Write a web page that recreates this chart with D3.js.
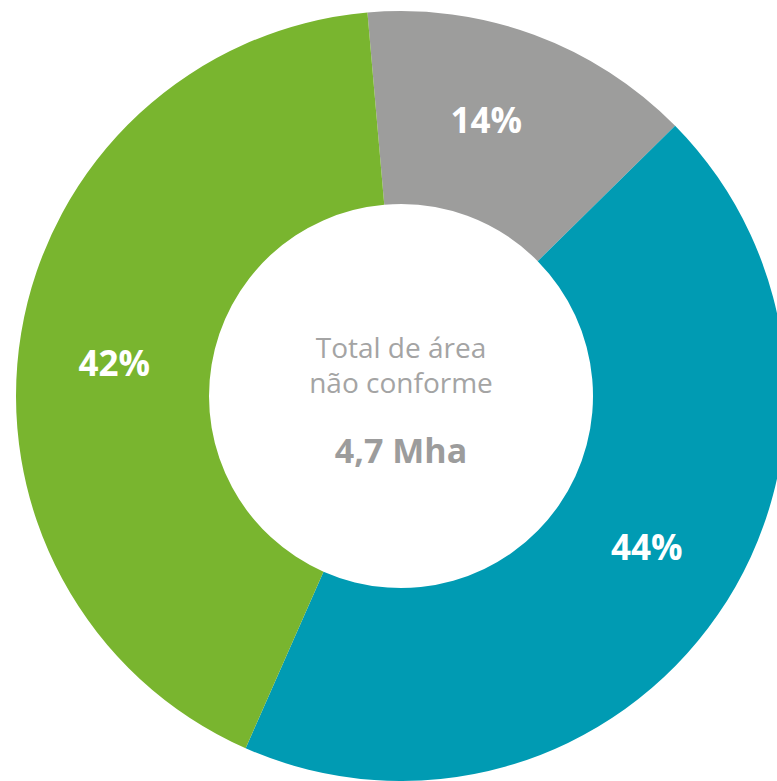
<!DOCTYPE html>
<html>
<head>
<meta charset="utf-8">
<script src="https://cdn.jsdelivr.net/npm/d3@7"></script>
<style>
  html, body { margin: 0; padding: 0; background: #fff; }
  svg { display: block; font-family: 'Open Sans', sans-serif; }
  .slice-label { fill: #fff; font-weight: 700; font-size: 35px; }
  .center-title { fill: #a4a4a4; font-size: 28px; }
  .center-total { fill: #9c9c9c; font-weight: 700; font-size: 34px; }
</style>
</head>
<body>
<svg id="chart"></svg>
<script>
// slices, clockwise from the top
const categories = ['Outros', 'Categoria B', 'Categoria A'];
const shares = [14, 44, 42];
const sliceLabels = ['14%', '44%', '42%'];
const sliceColors = ['#9d9d9c', '#009bb3', '#79b52f'];
const centerLines = ['Total de área', 'não conforme'];
const totalLabel = '4,7 Mha';

const config = {
  width: 777,
  height: 781,
  cx: 401,
  cy: 396,
  outerRadius: 385,
  innerRadius: 192,
  startAngle: -5 * Math.PI / 180,
};

const svg = d3.select('#chart')
  .attr('width', config.width)
  .attr('height', config.height);

const chart = svg.append('g')
  .attr('transform', `translate(${config.cx},${config.cy})`);

const data = categories.map((c, i) => ({ key: c, value: shares[i], label: sliceLabels[i], color: sliceColors[i] }));

const pie = d3.pie()
  .value((d) => d.value)
  .sort(null)
  .startAngle(config.startAngle)
  .endAngle(config.startAngle + 2 * Math.PI);

const arc = d3.arc()
  .innerRadius(config.innerRadius)
  .outerRadius(config.outerRadius);

const arcs = pie(data);

chart.selectAll('path.slice')
  .data(arcs)
  .join('path')
  .attr('class', 'slice')
  .attr('d', arc)
  .attr('fill', (d) => d.data.color);

// labels sit a little counter-clockwise of the slice middle
const nudge = -3 * Math.PI / 180;

chart.selectAll('text.slice-label')
  .data(arcs)
  .join('text')
  .attr('class', 'slice-label')
  .attr('transform', (d) => {
    const p = arc.centroid({ startAngle: d.startAngle + nudge, endAngle: d.endAngle + nudge });
    return `translate(${p[0]},${p[1]})`;
  })
  .attr('text-anchor', 'middle')
  .attr('dy', '0.36em')
  .text((d) => d.data.label);

// centre text
chart.selectAll('text.center-title')
  .data(centerLines)
  .join('text')
  .attr('class', 'center-title')
  .attr('text-anchor', 'middle')
  .attr('x', 0)
  .attr('y', (d, i) => -38 + i * 35)
  .text((d) => d);

chart.append('text')
  .attr('class', 'center-total')
  .attr('text-anchor', 'middle')
  .attr('x', 0)
  .attr('y', 67)
  .text(totalLabel);
</script>
</body>
</html>
